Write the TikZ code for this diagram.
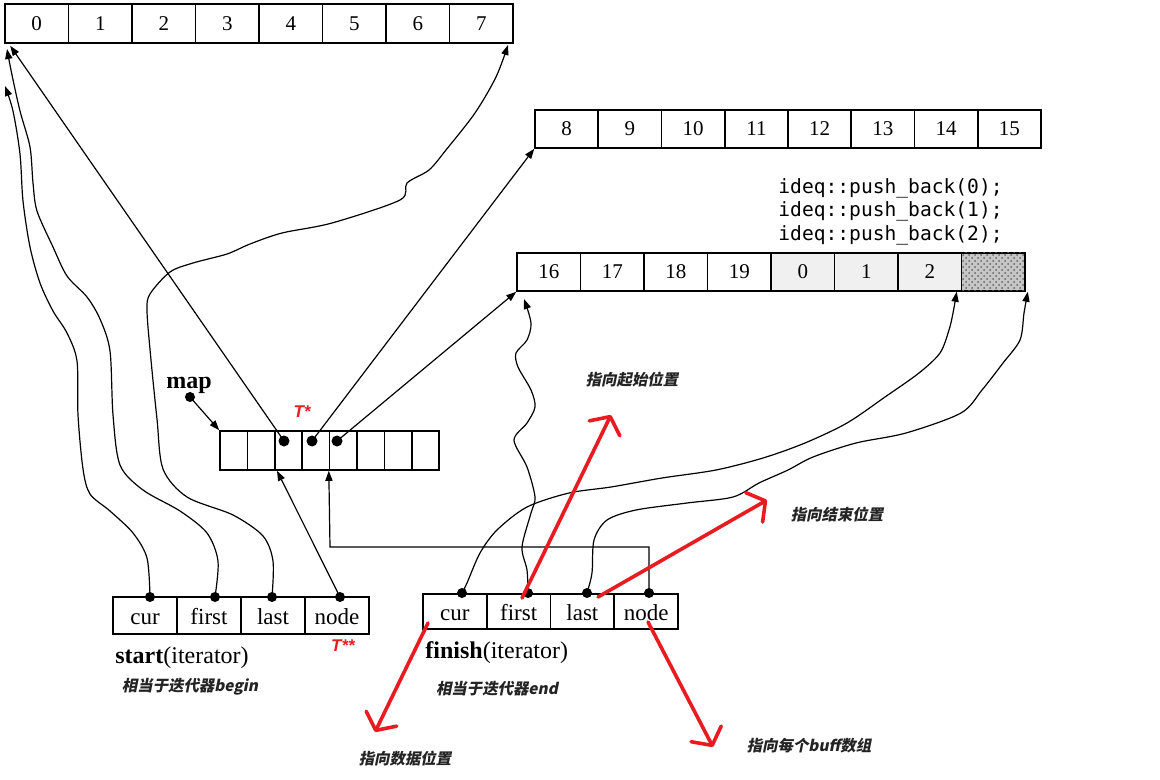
\documentclass[tikz,border=0pt]{standalone}
\usepackage{fontspec}
\setmainfont{Liberation Serif}
\newfontfamily\cjk[FakeSlant=0.2]{Noto Sans CJK SC}
\newfontfamily\monof{DejaVu Sans Mono}
\newfontfamily\redsf{Liberation Sans}
\usetikzlibrary{arrows.meta,patterns}
\definecolor{redpen}{RGB}{232,28,32}
\definecolor{cjkgray}{RGB}{35,35,35}
\begin{document}
\begin{tikzpicture}[x=0.5pt,y=-0.5pt,
  cell/.style={draw,line width=0.8pt,inner sep=0pt,minimum height=19.5pt,font=\fontsize{10.5}{12}\selectfont},
  bufcell/.style={cell,minimum width=31.75pt},
  mapcell/.style={cell,minimum width=13.7pt},
  itcell/.style={cell,minimum width=32pt,minimum height=18.5pt,font=\fontsize{11.5}{13}\selectfont,text height=8.8pt,text depth=0.2pt},
  dot/.style={circle,fill=black,inner sep=0pt,minimum size=5pt},
  conn/.style={line width=0.6pt,-{Triangle[length=5pt,width=3.6pt]}},
  redarrow/.style={draw=redpen,line width=1.8pt,line cap=round,-{Straight Barb[length=6.5pt,width=17pt,round]}},
  cjklbl/.style={font=\cjk\bfseries\fontsize{7.7}{9}\selectfont,text=cjkgray},
  redlbl/.style={font=\redsf\bfseries\itshape\fontsize{8.5}{9}\selectfont,text=redpen},
  monolbl/.style={font=\monof\fontsize{9.8}{11}\selectfont,anchor=west,inner sep=0pt},
  itlbl/.style={font=\fontsize{12}{14}\selectfont,anchor=west,inner sep=0pt}
]
\fill[white] (0,0) rectangle (1160,780);
\useasboundingbox (0,0) rectangle (1160,780);

% buffer 0..7
\foreach \lab [count=\i from 0] in {0,1,2,3,4,5,6,7}
  \node[bufcell] (a\i) at ({5+63.5*(\i+0.5)},23.5) {\lab};
% buffer 8..15
\foreach \lab [count=\i from 0] in {8,9,10,11,12,13,14,15}
  \node[bufcell,minimum width=31.6pt,minimum height=19pt] (b\i) at ({535+63.25*(\i+0.5)},129) {\lab};
% buffer 16..19 + pushed elements
\foreach \lab [count=\i from 0] in {16,17,18,19}
  \node[bufcell,minimum height=19pt] (c\i) at ({517+63.5*(\i+0.5)},272) {\lab};
\foreach \lab [count=\i from 4] in {0,1,2}
  \node[bufcell,minimum height=19pt,fill=gray!12] (c\i) at ({517+63.5*(\i+0.5)},272) {\lab};
\node[bufcell,minimum height=19pt,fill=gray!45,postaction={pattern=crosshatch dots,pattern color=black!60}] (c7) at ({517+63.5*7.5},272) {};

% push_back text
\node[monolbl] (pb0) at (778,188) {ideq::push\_back(0);};
\node[monolbl] (pb1) at (778,211) {ideq::push\_back(1);};
\node[monolbl] (pb2) at (778,235) {ideq::push\_back(2);};

% map
\foreach \i in {0,...,7}
  \node[mapcell] (m\i) at ({220+27.4*(\i+0.5)},450.5) {};
\node[dot,minimum size=5.5pt] (md1) at (284,441) {};
\node[dot,minimum size=5.5pt] (md2) at (312,441) {};
\node[dot,minimum size=5.5pt] (md3) at (337,441) {};
\node[font=\bfseries\fontsize{12}{14}\selectfont,inner sep=0pt] (maplbl) at (189,385) {map};
\node[dot] (mapdot) at (190,397) {};
\node[redlbl] (tstar) at (302,412) {T*};

% start iterator
\foreach \lab [count=\i from 0] in {cur,first,last,node}
  \node[itcell] (s\i) at ({113+64*(\i+0.5)},615.5) {\lab};
\node[dot] (scur) at (150,597) {};
\node[dot] (sfst) at (215,597) {};
\node[dot] (slst) at (272,597) {};
\node[dot] (snd) at (340,597) {};
\node[redlbl] (tss) at (343,646) {T**};
\node[itlbl] (slbl) at (115,658) {\textbf{start}(iterator)};
\node[cjklbl] (sbeg) at (190,687) {相当于迭代器begin};

% finish iterator
\foreach \lab [count=\i from 0] in {cur,first,last,node}
  \node[itcell,minimum width=31.875pt,minimum height=17.5pt] (f\i) at ({423+63.75*(\i+0.5)},611.5) {\lab};
\node[dot] (fcur) at (462,593) {};
\node[dot] (ffst) at (528,593) {};
\node[dot] (flst) at (587,593) {};
\node[dot] (fnd) at (649,593) {};
\node[itlbl] (flbl) at (425,653) {\textbf{finish}(iterator)};
\node[cjklbl] (fend) at (497,689) {相当于迭代器end};

% free-end coordinates
\coordinate (tipcur) at (5,86);
\coordinate (tipfst) at (7,49);
\coordinate (tiplst) at (508,45);
\coordinate (tipffst) at (524,299);
\coordinate (fbend) at (330,547);

% map pointers
\draw[conn] (mapdot.center) -- (m0.north west);
\draw[conn] (md1.center) -- ([xshift=3pt,yshift=-1pt]a0.south west);
\draw[conn] (md2.center) -- (b0.south west);
\draw[conn] (md3.center) -- (c0.south west);

% start connectors
\draw[conn] plot[smooth] coordinates {(scur.center) (147,558) (133,533) (110,511) (90,494) (83,469) (78,415) (77,361) (67,333) (53,311) (40,283) (30,247) (23,201) (20,154) (13,111) (tipcur)};
\draw[conn] plot[smooth] coordinates {(sfst.center) (218,561) (207,533) (180,511) (143,490) (120,465) (113,415) (110,351) (100,319) (87,297) (67,276) (53,247) (37,211) (33,183) (30,147) (20,111) (12,75) (tipfst)};
\draw[conn] plot[smooth] coordinates {(slst.center) (273,561) (263,536) (233,515) (187,497) (163,469) (157,419) (151,360) (147,311) (150,294) (170,272) (193,263) (227,254) (250,244) (282,233) (332,223) (400,200) (407,183) (429,170) (446,150) (475,113) (496,77) (tiplst)};
\draw[conn] (snd.center) -- ([xshift=1.5pt]m2.south west);

% finish connectors
\draw[conn] plot[smooth] coordinates {(fcur.center) (467,583) (480,553) (497,530) (527,507) (569,493) (611,487) (662,478) (716,470) (763,458) (805,443) (847,423) (885,397) (919,373) (940,353) (949,330) (953,313) ([xshift=-2pt]c7.south west)};
\draw[conn] plot[smooth] coordinates {(ffst.center) (527,570) (522,547) (531,513) (535,497) (527,467) (514,440) (527,423) (535,407) (531,390) (518,367) (516,353) (527,340) (531,323) (tipffst)};
\draw[conn] plot[smooth] coordinates {(flst.center) (592,573) (594,540) (607,520) (636,510) (687,503) (733,497) (759,483) (788,470) (813,457) (856,443) (906,433) (961,413) (982,390) (1003,363) (1020,340) (1024,313) ([xshift=1pt]c7.south east)};
\draw[conn] (fnd.center) |- (fbend) -- (m4.south west);

% red annotations
\coordinate (r1s) at (522,598);
\coordinate (r1e) at (611,415);
\coordinate (r2s) at (598,597);
\coordinate (r2e) at (767,500);
\coordinate (r3s) at (428,623);
\coordinate (r3e) at (375,732);
\coordinate (r4s) at (648,622);
\coordinate (r4e) at (713,747);
\draw[redarrow] (r1s) -- (r1e);
\draw[redarrow] (r2s) -- (r2e);
\draw[redarrow] (r3s) -- (r3e);
\draw[redarrow] (r4s) -- (r4e);
\node[cjklbl] (lstart) at (632,380) {指向起始位置};
\node[cjklbl] (lend) at (837,515) {指向结束位置};
\node[cjklbl] (ldata) at (405,759) {指向数据位置};
\node[cjklbl] (lbuff) at (809,746) {指向每个buff数组};
\end{tikzpicture}
\end{document}
